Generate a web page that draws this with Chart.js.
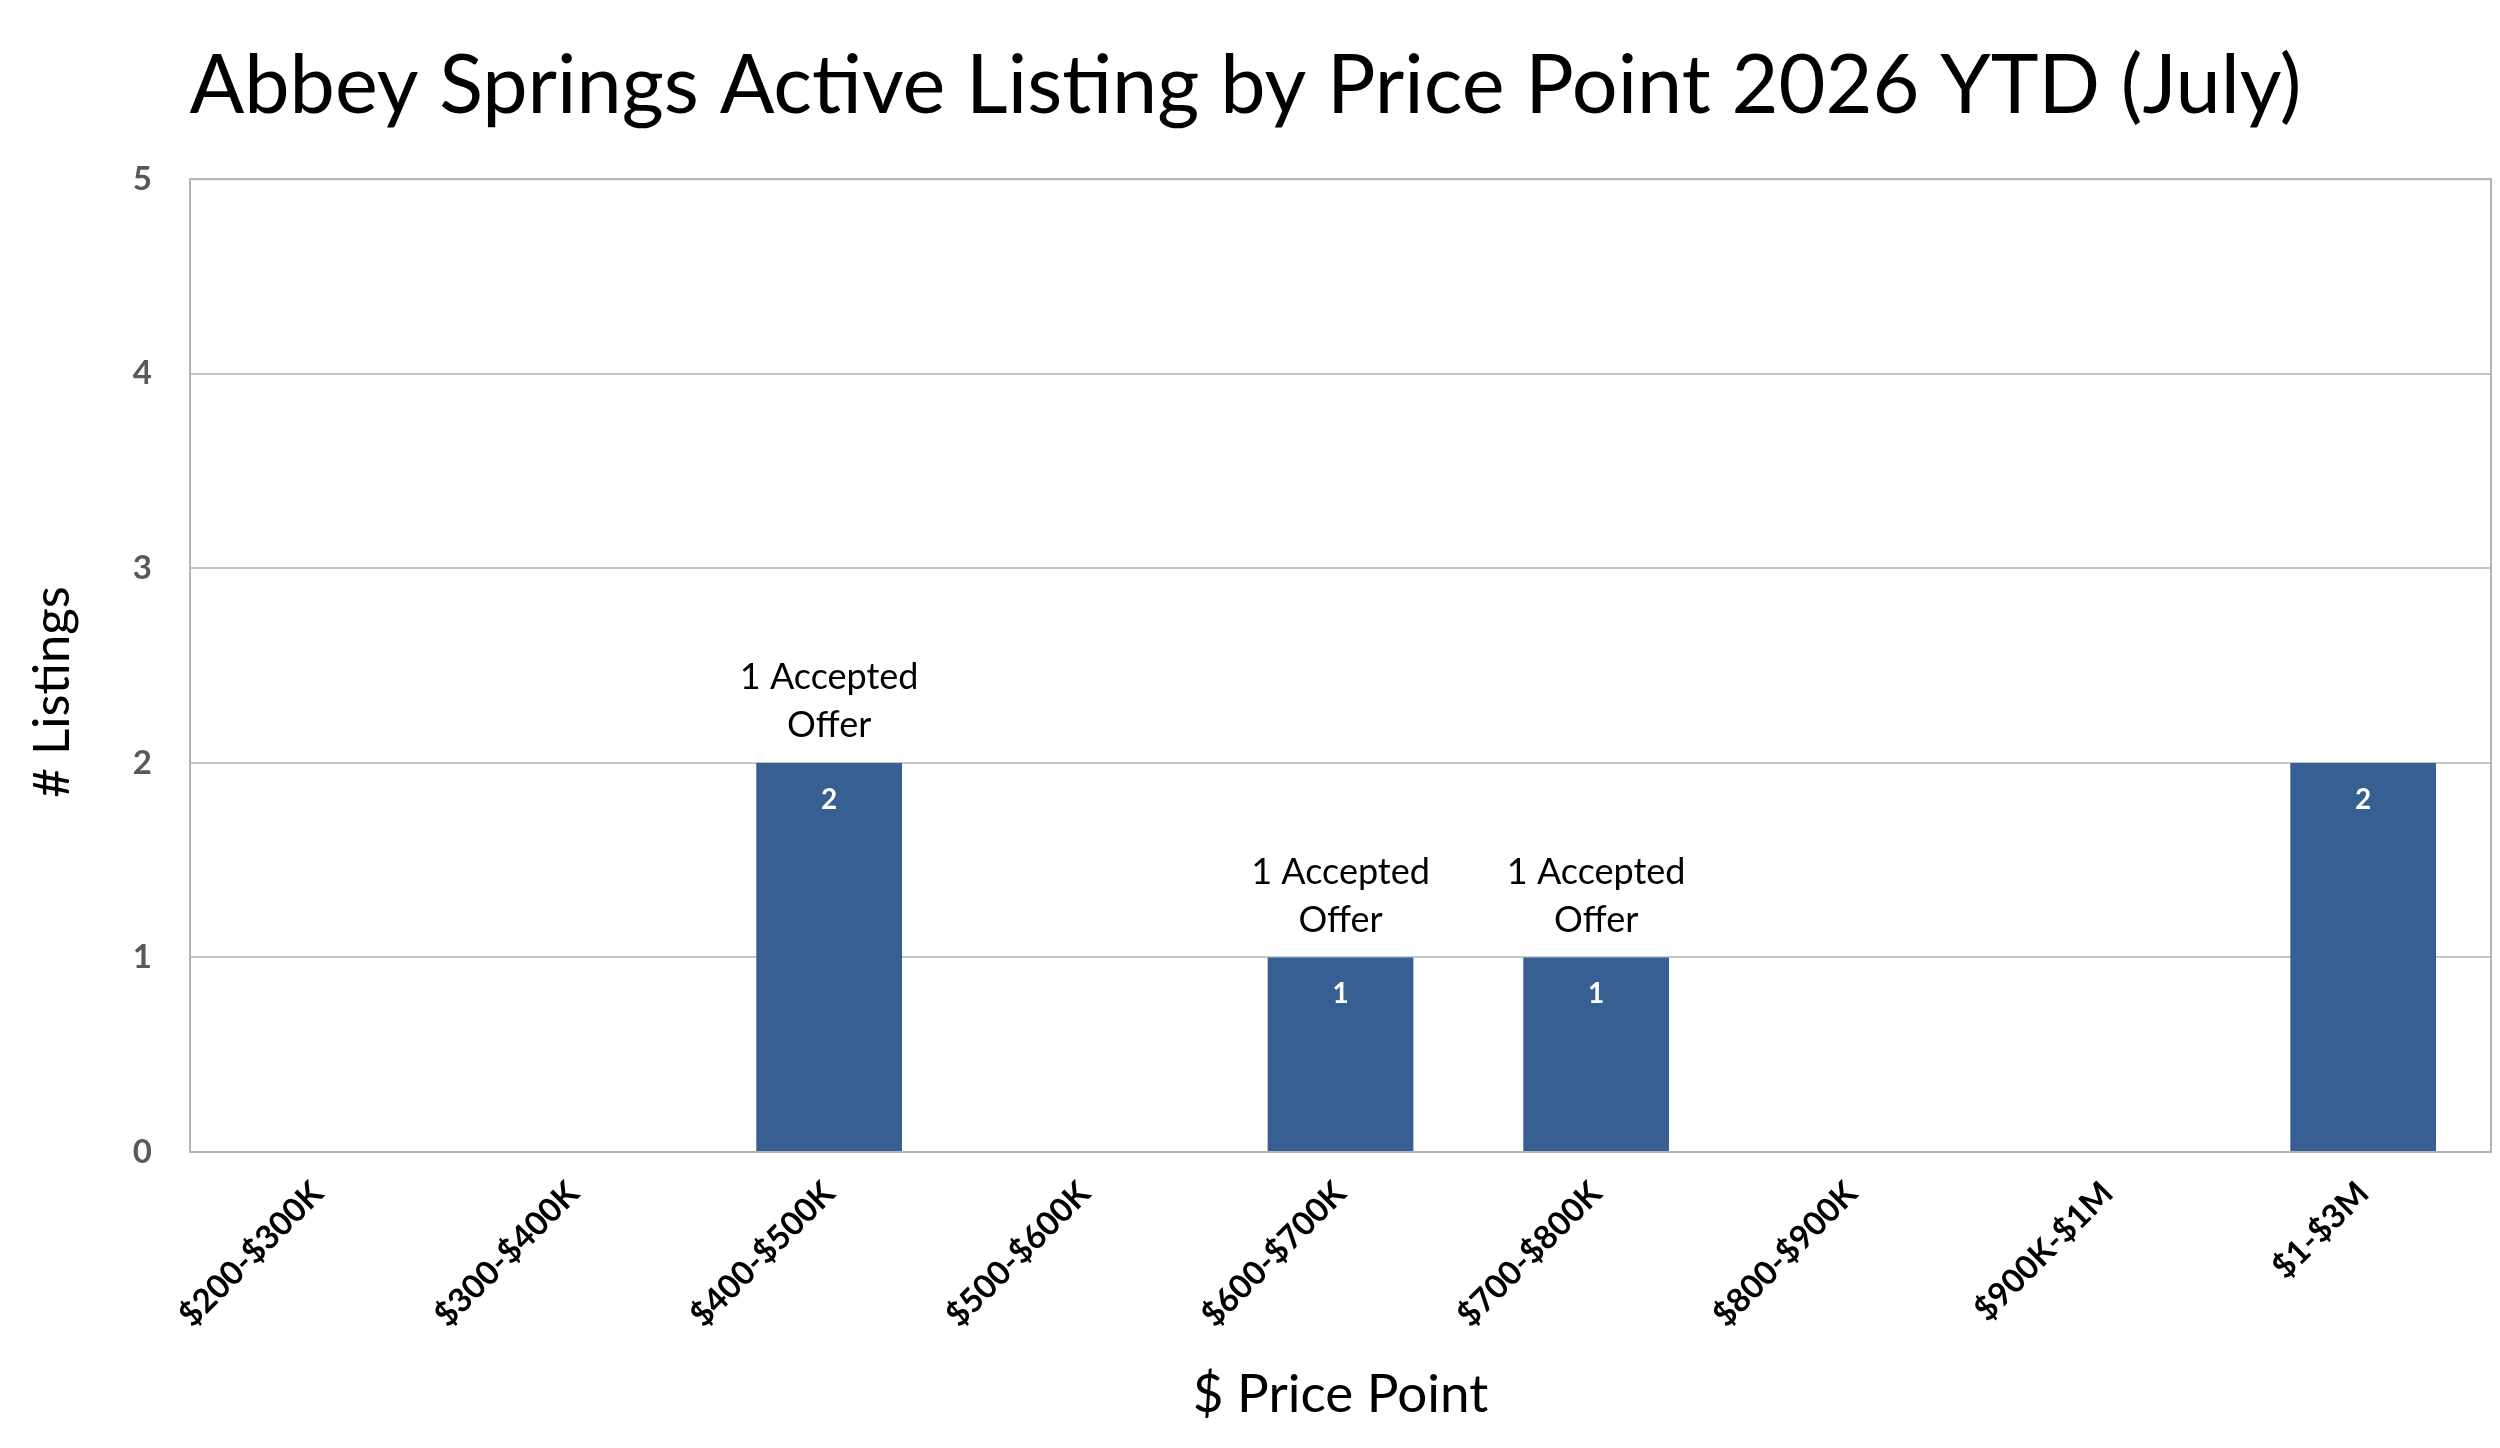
<!DOCTYPE html>
<html>
<head>
<meta charset="utf-8">
<script src="https://cdn.jsdelivr.net/npm/chart.js@4"></script>
<style>
  html, body { margin: 0; padding: 0; background: #ffffff; }
  #chart { display: block; }
</style>
</head>
<body>
<canvas id="chart" width="2500" height="1448"></canvas>
<script>
// data
const priceRanges = ['$200-$300K', '$300-$400K', '$400-$500K', '$500-$600K', '$600-$700K',
                     '$700-$800K', '$800-$900K', '$900K-$1M', '$1-$3M'];
const listings = [0, 0, 2, 0, 1, 1, 0, 0, 2];
const notes = ['', '', '1 Accepted Offer', '', '1 Accepted Offer', '1 Accepted Offer', '', '', ''];
const yTicks = [0, 1, 2, 3, 4, 5];

const FONT = 'Lato, "Open Sans", sans-serif';

// value labels inside bars, notes above them, y title and the plot area frame
const barLabels = {
    id: 'barLabels',
    afterDatasetsDraw(chart) {
        const ctx = chart.ctx;
        const meta = chart.getDatasetMeta(0);
        ctx.save();
        ctx.textAlign = 'center';
        ctx.textBaseline = 'middle';
        meta.data.forEach((bar, i) => {
            if (listings[i] > 0) {
                ctx.fillStyle = '#ffffff';
                ctx.font = 'bold 28px ' + FONT;
                ctx.fillText(String(listings[i]), bar.x, bar.y + 37);
            }
            if (notes[i]) {
                const words = notes[i].split(' ');
                const lines = [words.slice(0, 2).join(' '), words.slice(2).join(' ')];
                ctx.fillStyle = '#000000';
                ctx.font = '36px ' + FONT;
                ctx.fillText(lines[0], bar.x, bar.y - 85);
                ctx.fillText(lines[1], bar.x, bar.y - 37);
            }
        });
        const a = chart.chartArea;
        ctx.strokeStyle = '#b4b4b4';
        ctx.lineWidth = 2;
        ctx.strokeRect(a.left, a.top, a.right - a.left, a.bottom - a.top);

        // axis title sits a little below the middle of the plot, as in the original
        ctx.translate(53, a.top + (a.bottom - a.top) * 0.527);
        ctx.rotate(-Math.PI / 2);
        ctx.fillStyle = '#000000';
        ctx.font = '51px ' + FONT;
        ctx.fillText('# Listings', 0, 0);
        ctx.restore();
    }
};

new Chart(document.getElementById('chart').getContext('2d'), {
    type: 'bar',
    data: {
        labels: priceRanges,
        datasets: [{
            label: '# Listings',
            data: listings,
            backgroundColor: '#375F91',
            barPercentage: 0.57,
            categoryPercentage: 1.0
        }]
    },
    options: {
        responsive: false,
        animation: false,
        devicePixelRatio: 1,
        layout: { padding: { left: 0, right: 9, top: 0, bottom: 0 } },
        plugins: {
            legend: { display: false },
            tooltip: { enabled: false },
            title: {
                display: true,
                text: 'Abbey Springs Active Listing by Price Point 2026 YTD (July)',
                color: '#000000',
                font: { family: FONT, size: 81, weight: 'normal' },
                padding: { top: 38, bottom: 44 }
            }
        },
        scales: {
            x: {
                grid: { display: false, drawTicks: false },
                border: { display: true, color: '#c6c6c6', width: 2 },
                ticks: {
                    color: '#000000',
                    font: { family: FONT, size: 33, weight: 'bold' },
                    minRotation: 45,
                    maxRotation: 45,
                    padding: 22
                },
                title: {
                    display: true,
                    text: '$ Price Point',
                    color: '#000000',
                    font: { family: FONT, size: 53 },
                    padding: { top: 10, bottom: 21 }
                },
                afterFit(scale) { scale.height = 296; }
            },
            y: {
                min: 0,
                max: 5,
                afterBuildTicks(scale) { scale.ticks = yTicks.map(v => ({ value: v })); },
                grid: { color: '#c6c6c6', lineWidth: 2, drawTicks: false },
                border: { display: false },
                ticks: {
                    color: '#595959',
                    font: { family: FONT, size: 33, weight: 'bold' },
                    padding: 38
                },
                afterFit(scale) { scale.width = 190; }
            }
        }
    },
    plugins: [barLabels]
});
</script>
</body>
</html>
